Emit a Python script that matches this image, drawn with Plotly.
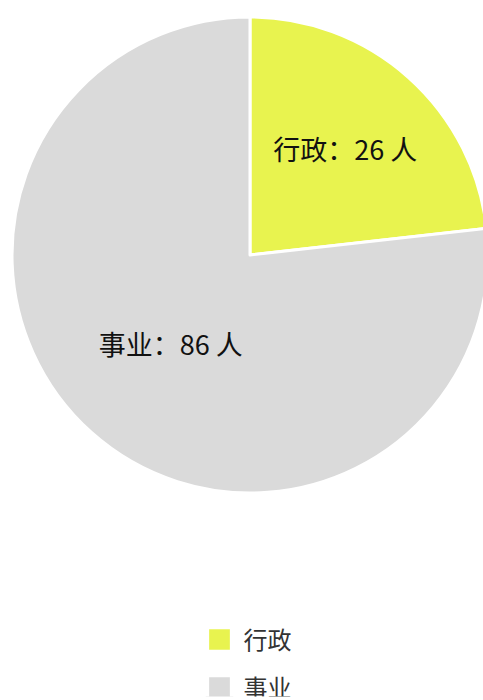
import plotly.graph_objects as go

categories = ["行政", "事业"]
values = [26, 86]
unit = "人"
colors = ["#E8F34F", "#DADADA"]

fig = go.Figure(go.Pie(
    labels=categories,
    values=values,
    sort=False,
    direction="clockwise",
    rotation=0,
    marker=dict(colors=colors, line=dict(color="white", width=3)),
    texttemplate="%{label}：%{value} " + unit,
    textinfo="text",
    textposition="inside",
    insidetextorientation="horizontal",
    textfont=dict(family="Noto Sans CJK SC", size=27, color="#111111"),
    hoverinfo="label+value",
    domain=dict(x=[0, 1], y=[0.2957, 0.9757]),
))

fig.update_layout(
    width=500, height=700,
    margin=dict(l=0, r=0, t=0, b=0),
    paper_bgcolor="white", plot_bgcolor="white",
    showlegend=True,
    legend=dict(
        x=0.5, xanchor="center", y=0.118, yanchor="top",
        orientation="v",
        font=dict(family="Noto Sans CJK SC", size=24, color="#333333"),
        itemwidth=30,
    ),
)

post = """
document.body.style.overflow='hidden';
document.body.style.margin='0';
var gd = document.getElementById('{plot_id}');
function fixLegend(){
  gd.querySelectorAll('.legendpoints path').forEach(function(p){
    p.setAttribute('transform','translate(16,0) scale(2.3)');
  });
  var items = gd.querySelectorAll('.legend .traces');
  var y0 = null;
  items.forEach(function(t, i){
    var m = /translate\\(([-\\d.]+),\\s*([-\\d.]+)\\)/.exec(t.getAttribute('transform'));
    if(!m) return;
    var x = parseFloat(m[1]), y = parseFloat(m[2]);
    if(y0 === null) y0 = y;
    t.setAttribute('transform','translate('+x+','+(y0 + i*48)+')');
  });
  var bg = gd.querySelector('.legend .bg');
  if(bg) bg.setAttribute('height', 120);
}
fixLegend();
gd.on('plotly_afterplot', fixLegend);
"""

fig.write_html("out.html", post_script=post)
